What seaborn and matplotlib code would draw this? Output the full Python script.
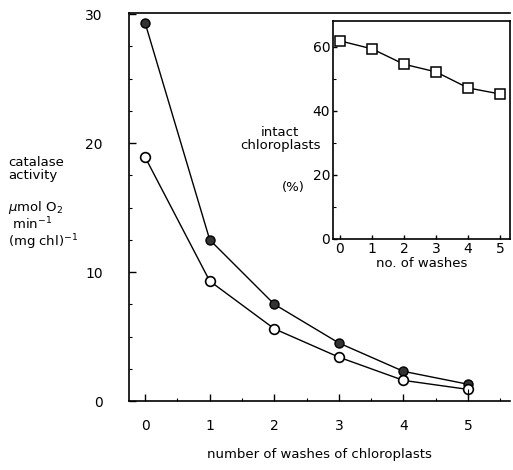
import matplotlib
matplotlib.use("Agg")
import matplotlib.pyplot as plt
from matplotlib.ticker import MultipleLocator
import seaborn as sns
import pandas as pd

sns.set_style("ticks")
plt.rcParams['font.family'] = ['DejaVu Sans']
plt.rcParams['text.color'] = 'black'
plt.rcParams['axes.labelcolor'] = 'black'
plt.rcParams['xtick.color'] = 'black'
plt.rcParams['ytick.color'] = 'black'
plt.rcParams['axes.edgecolor'] = 'black'

washes = [0, 1, 2, 3, 4, 5]
catalase_filled = [29.3, 12.5, 7.5, 4.5, 2.3, 1.3]
catalase_open = [18.9, 9.3, 5.6, 3.4, 1.6, 0.9]
intact_pct = [61.9, 59.4, 54.6, 52.2, 47.2, 45.3]
main_xticks = [0, 1, 2, 3, 4, 5]
main_yticks = [0, 10, 20, 30]
inset_yticks = [0, 20, 40, 60]

df_f = pd.DataFrame({"washes": washes, "activity": catalase_filled})
df_o = pd.DataFrame({"washes": washes, "activity": catalase_open})
df_i = pd.DataFrame({"washes": washes, "intact": intact_pct})

fig = plt.figure(figsize=(5.13, 4.70), dpi=100)
ax = fig.add_axes([0.2515, 0.1468, 0.7425, 0.8255])

sns.lineplot(data=df_f, x="washes", y="activity", ax=ax, color="black", lw=1.0,
             marker="o", markersize=6.5, markerfacecolor="#333333",
             markeredgecolor="black", markeredgewidth=1.0)
sns.lineplot(data=df_o, x="washes", y="activity", ax=ax, color="black", lw=1.0,
             marker="o", markersize=7, markerfacecolor="white",
             markeredgecolor="black", markeredgewidth=1.2)
# small error bar on last open point
ax.vlines(washes[-1], catalase_open[-1] - 0.7, catalase_open[-1], color="black", lw=0.8)

ax.set_xlim(-0.25, 5.65)
ax.set_ylim(0, 30.08)
ax.set_xticks(main_xticks)
ax.set_yticks(main_yticks)
ax.yaxis.set_minor_locator(MultipleLocator(2.5))
ax.xaxis.set_minor_locator(MultipleLocator(0.5))
ax.tick_params(axis="both", which="major", direction="in", length=5, width=1,
               labelsize=10)
ax.tick_params(axis="y", which="major", pad=19)
ax.tick_params(axis="x", which="major", pad=13)
ax.tick_params(axis="both", which="minor", direction="in", length=2, width=0.8)
for s in ["left", "bottom", "top"]:
    ax.spines[s].set_linewidth(1.2)
ax.spines["right"].set_visible(False)
ax.set_xlabel("number of washes of chloroplasts", fontsize=9.5, labelpad=11)
ax.set_ylabel("")

fig.text(0.016, 0.64, "catalase\nactivity", fontsize=9.5, ha="left", va="center",
         linespacing=1.0)
fig.text(0.016, 0.52, "$\\mu$mol O$_2$\n min$^{-1}$\n(mg chl)$^{-1}$", fontsize=9.5,
         ha="left", va="center", linespacing=1.0)

# inset
axi = fig.add_axes([0.649, 0.4915, 0.345, 0.4638])
sns.lineplot(data=df_i, x="washes", y="intact", ax=axi, color="black", lw=1.0,
             marker="s", markersize=7, markerfacecolor="white",
             markeredgecolor="black", markeredgewidth=1.1)
axi.set_xlim(-0.22, 5.31)
axi.set_ylim(0, 68.1)
axi.set_xticks(washes)
axi.set_yticks(inset_yticks)
axi.yaxis.set_minor_locator(MultipleLocator(10))
axi.tick_params(axis="both", which="major", direction="in", length=3, width=1,
                labelsize=10, pad=2)
axi.tick_params(axis="both", which="minor", direction="in", length=2, width=0.8)
for s in axi.spines.values():
    s.set_linewidth(1.2)
axi.set_xlabel("no. of washes", fontsize=9.5, labelpad=1)
axi.set_ylabel("")
fig.text(0.625, 0.705, "intact\nchloroplasts", fontsize=9.5, ha="right", va="center",
         linespacing=1.0, multialignment="center")
fig.text(0.595, 0.60, "(%)", fontsize=9.5, ha="right", va="center")

fig.savefig("out.png", dpi=100)
